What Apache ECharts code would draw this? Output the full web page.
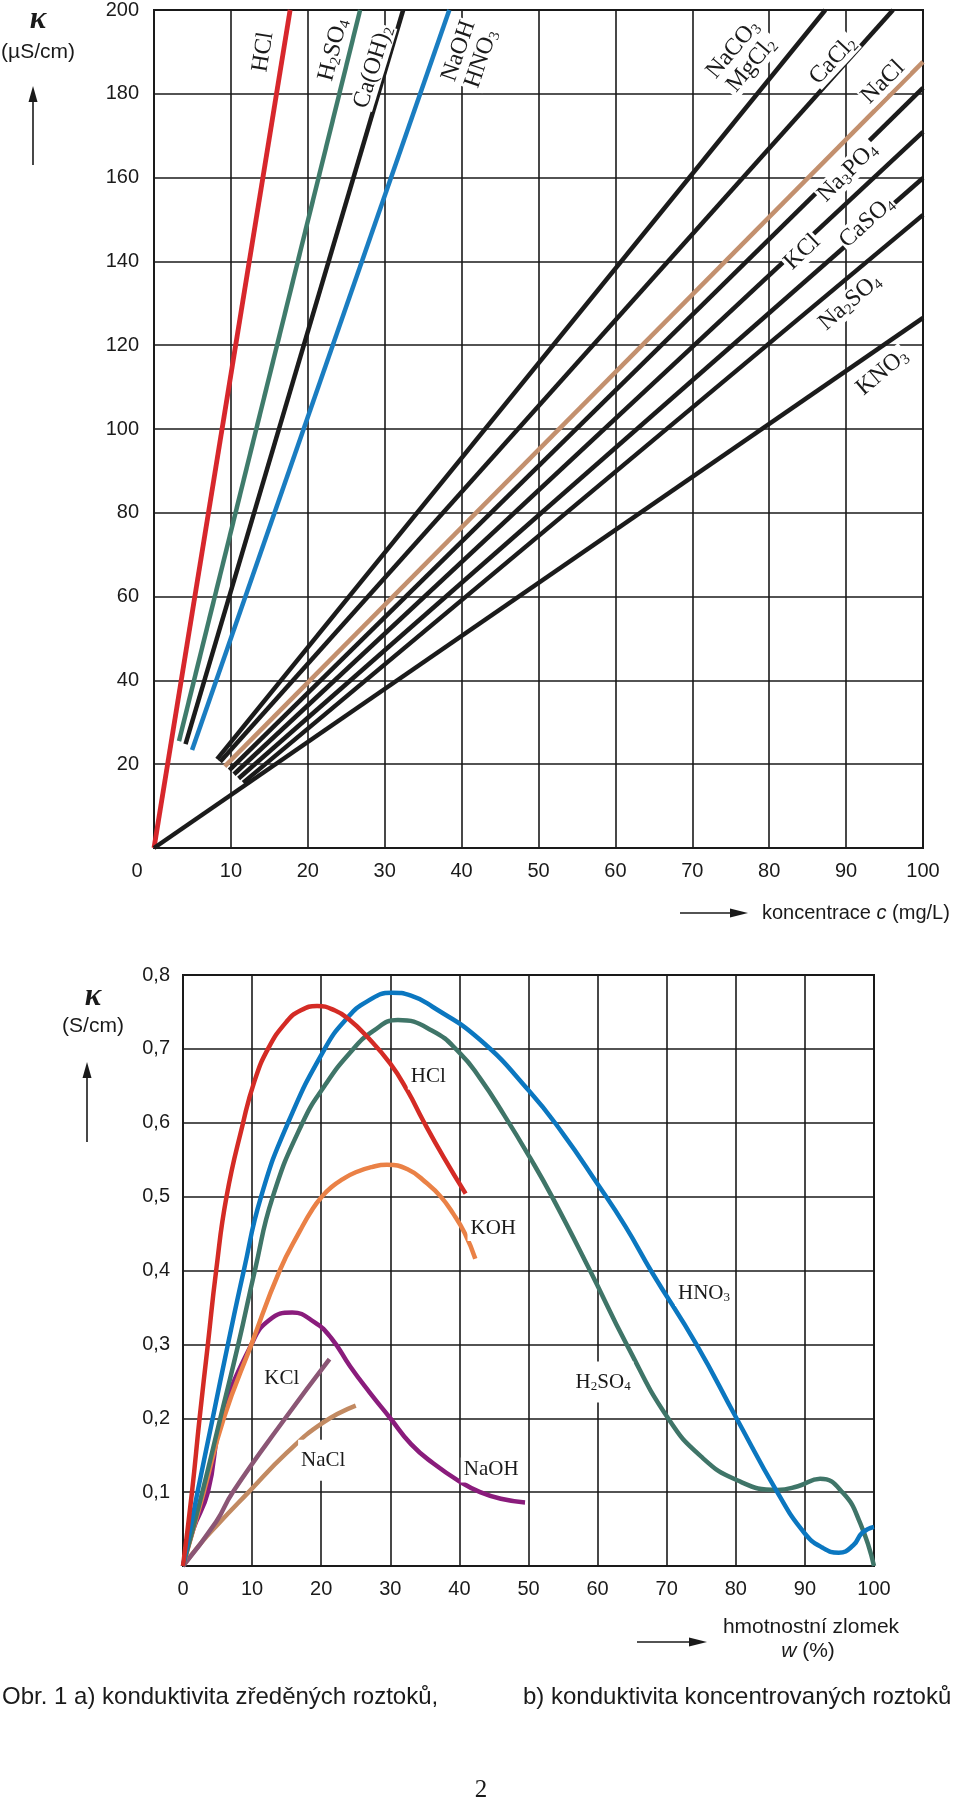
<!DOCTYPE html>
<html><head><meta charset="utf-8">
<script src="https://cdn.jsdelivr.net/npm/echarts@6/dist/echarts.min.js"></script>
<style>html,body{margin:0;padding:0;background:#fff}#c{width:960px;height:1803px}</style>
</head><body><div id="c"></div>
<script>
// ---------- a) dilute solutions: c (mg/L) vs kappa (µS/cm) ----------
const diluteXTicks = [0, 100, 10];
const diluteYTicks = [0, 200, 20];
const hclA    = [[0, 0], [17.7, 200]];
const h2so4A  = [[3.25, 25.5], [26.8, 200]];
const caoh2A  = [[4.1, 24.8], [32.4, 200]];
const naohA   = [[4.95, 23.4], [38.4, 200]];
const kno3A   = [[0, 0], [100, 126.5]];
const na2so4A = [[11.6, 15.6], [100, 151.1]];
const caso4A  = [[11.0, 16.6], [100, 159.9]];
const kclA    = [[10.4, 17.6], [100, 170.9]];
const na3po4A = [[9.8, 18.6], [100, 181.4]];
const cacl2A  = [[8.6, 20.6], [96.1, 200]];
const naco3A  = [[8.2, 21.2], [87.3, 200]];
const naclA   = [[9.2, 19.5], [100, 187.6]];

// ---------- b) concentrated solutions: w (%) vs kappa (S/cm) ----------
const concXTicks = [0, 100, 10];
const concYTicks = [0, 0.8, 0.1];
const hclB = [[0,0],[1.3,0.1],[2.4,0.2],[3.6,0.3],[4.8,0.4],[6.3,0.5],[8.7,0.6],[10.3,0.655],[12.3,0.7],[15,0.737],[17,0.752],[19.4,0.758],[22,0.752],[24,0.74],[26.6,0.717],[30,0.68],[32.5,0.643],[34.8,0.602],[37.8,0.552],[40.9,0.504]];
const hno3B = [[0,0],[2.1,0.1],[4.3,0.2],[6.5,0.3],[8.8,0.4],[11.3,0.5],[15.2,0.6],[20.5,0.7],[23.7,0.741],[26.6,0.764],[30.2,0.776],[33,0.772],[36.1,0.757],[42.9,0.713],[50.1,0.643],[55,0.585],[60,0.517],[64,0.46],[67.9,0.397],[74.3,0.3],[80.1,0.2],[86,0.1],[89.9,0.045],[92.5,0.025],[94.9,0.018],[97,0.028],[98.3,0.045],[100,0.053]];
const h2so4B = [[0,0],[2.8,0.1],[5.4,0.2],[8,0.3],[10.4,0.4],[13,0.5],[17.3,0.6],[20.5,0.65],[24.2,0.695],[27.5,0.724],[31.1,0.739],[36,0.725],[40.1,0.694],[43,0.66],[46.5,0.61],[50.2,0.553],[53.4,0.5],[58.9,0.4],[64.2,0.3],[70.2,0.2],[75,0.148],[80.2,0.116],[86,0.103],[89,0.108],[92.2,0.118],[95.5,0.099],[98,0.058],[100,0]];
const kohB = [[0,0],[1.5,0.05],[3,0.1],[5.9,0.2],[9.9,0.3],[14,0.4],[17,0.455],[18.8,0.484],[20.1,0.5],[21.5,0.513],[23,0.523],[25,0.533],[27.3,0.54],[29.5,0.543],[32.5,0.537],[35.3,0.518],[37.3,0.5],[39.1,0.477],[40.8,0.45],[42.3,0.416]];
const naohB = [[0,0],[1.5,0.05],[3.6,0.1],[5.6,0.2],[9.9,0.3],[12.5,0.333],[15.8,0.343],[19,0.33],[21.5,0.308],[24.2,0.27],[27,0.235],[30,0.2],[33,0.165],[36.2,0.139],[40.1,0.114],[43,0.1],[46,0.091],[49.5,0.086]];
const kclB = [[0,0],[4.8,0.06],[7.2,0.1],[14.8,0.2],[21.2,0.28]];
const naclB = [[0,0],[2.5,0.03],[5,0.056],[9.5,0.1],[15,0.153],[20.1,0.193],[25,0.217]];

// curve labels (rich text, anchored in data coordinates)
const diluteLabels = [
  {t:'{n|HCl}', at:[14.2, 190], r:81},
  {t:'{n|H}{s|2}{n|SO}{s|4}', at:[23.3, 190.5], r:76},
  {t:'{n|Ca(OH)}{s|2}', at:[28.5, 186.4], r:73},
  {t:'{n|NaOH}\n{n|HNO}{s|3}', at:[41.1, 189.3], r:71},
  {t:'{n|NaCO}{s|3}\n{n|MgCl}{s|2}', at:[76.5, 188.8], r:50},
  {t:'{n|CaCl}{s|2}', at:[88.3, 188], r:47},
  {t:'{n|NaCl}', at:[94.8, 182.8], r:45},
  {t:'{n|Na}{s|3}{n|PO}{s|4}', at:[90.2, 161.3], r:45},
  {t:'{n|KCl}', at:[84.3, 142.2], r:44},
  {t:'{n|CaSO}{s|4}', at:[92.7, 149.4], r:42},
  {t:'{n|Na}{s|2}{n|SO}{s|4}', at:[90.5, 130.3], r:41},
  {t:'{n|KNO}{s|3}', at:[94.7, 113.6], r:40}
];
const concLabels = [
  {t:'{n|HCl}', at:[35.5, 0.662], p:[2,3]},
  {t:'{n|KOH}', at:[44.9, 0.457], p:[2,3]},
  {t:'{n|HNO}{s|3}', at:[75.4, 0.369], p:[2,3]},
  {t:'{n|H}{s|2}{n|SO}{s|4}', at:[60.8, 0.249], p:[10,3]},
  {t:'{n|KCl}', at:[14.3, 0.254], p:[2,3]},
  {t:'{n|NaCl}', at:[20.3, 0.143], p:[10,3]},
  {t:'{n|NaOH}', at:[44.6, 0.130], p:[2,3]}
];

const INK = '#1a1a1a';
const SANS = '"Liberation Sans", Arial, sans-serif';
const SERIF = '"Liberation Serif", "Times New Roman", serif';

function axisOf(g, ticks, fmt, margin) {
  return {type:'value', gridIndex:g, min:ticks[0], max:ticks[1], interval:ticks[2],
    axisLine:{show:true, lineStyle:{color:INK, width:2}}, axisTick:{show:false},
    splitLine:{show:true, lineStyle:{color:INK, width:1.6}},
    axisLabel:{color:INK, fontFamily:SANS, fontSize:20, margin:margin, formatter:fmt}};
}
function lineS(g, name, data, color, width, smooth) {
  return {type:'line', name, xAxisIndex:g, yAxisIndex:g, data, showSymbol:false, symbol:'none',
    smooth: smooth || false, lineStyle:{color, width}, z:3, silent:true, animation:false};
}
function richStyles(big, small, sub) {
  return {n:{fontFamily:SERIF, fontSize:big, color:INK, textBorderWidth:0},
          s:{fontFamily:SERIF, fontSize:small, color:INK, textBorderWidth:0, padding:[sub,0,0,0]}};
}
function labelS(g, labels, big, small, sub, defPad) {
  return {type:'scatter', xAxisIndex:g, yAxisIndex:g, symbolSize:0, z:10, silent:true, animation:false,
    itemStyle:{opacity:1, color:'rgba(0,0,0,0)'},
    data: labels.map(l => ({value:l.at, label:{show:true, position:'inside', formatter:l.t,
      rotate:l.r || 0, backgroundColor:'#fff', padding:l.p || defPad, lineHeight:big,
      color:INK, opacity:1, textBorderWidth:0,
      rich:richStyles(big, small, sub)}}))};
}

const chart = echarts.init(document.getElementById('c'), null, {renderer:'canvas'});

const fmtA = v => v === 0 ? '' : String(v);
const fmtB = v => v === 0 ? '' : v.toFixed(1).replace('.', ',');

function arrowUp(x, yTail, yTip) {
  return [
    {type:'line', shape:{x1:x, y1:yTail, x2:x, y2:yTip+12}, style:{stroke:INK, lineWidth:1.6}},
    {type:'polygon', shape:{points:[[x, yTip],[x-4.5, yTip+16],[x+4.5, yTip+16]]}, style:{fill:INK}}
  ];
}
function arrowRight(y, xTail, xTip) {
  return [
    {type:'line', shape:{x1:xTail, y1:y, x2:xTip-12, y2:y}, style:{stroke:INK, lineWidth:1.6}},
    {type:'polygon', shape:{points:[[xTip, y],[xTip-18, y-4.5],[xTip-18, y+4.5]]}, style:{fill:INK}}
  ];
}
function txt(x, y, text, font, align, rich) {
  const st = {x, y, text, font, fill:INK, textAlign:align||'center', textVerticalAlign:'middle',
              align:align||'center', verticalAlign:'middle'};
  if (rich) st.rich = rich;
  return {type:'text', style:st, z:20};
}
const sansR = s => ({fontFamily:SANS, fontSize:s, fill:INK, color:INK});
const sansI = s => ({fontFamily:SANS, fontStyle:'italic', fontSize:s, fill:INK, color:INK});

chart.setOption({
  animation:false,
  backgroundColor:'#fff',
  grid:[
    {left:154, top:10, width:769, height:838, show:true, borderColor:INK, borderWidth:2, containLabel:false},
    {left:183, top:975, width:691, height:591, show:true, borderColor:INK, borderWidth:2, containLabel:false}
  ],
  xAxis:[axisOf(0, diluteXTicks, fmtA, 13), axisOf(1, concXTicks, v => String(v), 13)],
  yAxis:[axisOf(0, diluteYTicks, fmtA, 15), axisOf(1, concYTicks, fmtB, 13)],
  series:[
    lineS(0,'HCl',hclA,'#d7272c',4.8),
    lineS(0,'H2SO4',h2so4A,'#3f7b6b',4.5),
    lineS(0,'Ca(OH)2',caoh2A,'#1b1b1b',4.5),
    lineS(0,'NaOH, HNO3',naohA,'#1a7dc1',4.5),
    lineS(0,'KNO3',kno3A,'#1b1b1b',4.5),
    lineS(0,'Na2SO4',na2so4A,'#1b1b1b',4.5),
    lineS(0,'CaSO4',caso4A,'#1b1b1b',4.5),
    lineS(0,'KCl',kclA,'#1b1b1b',4.5),
    lineS(0,'Na3PO4',na3po4A,'#1b1b1b',4.5),
    lineS(0,'CaCl2',cacl2A,'#1b1b1b',4.5),
    lineS(0,'NaCO3, MgCl2',naco3A,'#1b1b1b',4.5),
    lineS(0,'NaCl',naclA,'#c3906e',4.5),
    labelS(0, diluteLabels, 24, 15, 11, [0,1]),
    lineS(1,'NaCl',naclB,'#c28a62',4.5,0.5),
    lineS(1,'KCl',kclB,'#8b5675',4.5,0.5),
    lineS(1,'NaOH',naohB,'#8a1c7c',4.5,0.5),
    lineS(1,'KOH',kohB,'#ea8146',4.5,0.5),
    lineS(1,'H2SO4',h2so4B,'#3f7568',4.5,0.5),
    lineS(1,'HNO3',hno3B,'#0b77c0',4.5,0.5),
    lineS(1,'HCl',hclB,'#d42b25',4.5,0.5),
    labelS(1, concLabels, 21, 13, 9, [2,3])
  ],
  graphic:{elements:[
    txt(137, 871, '0', '20px ' + SANS),
    txt(38, 20, 'κ', 'italic bold 31px ' + SERIF),
    txt(38, 52, '(µS/cm)', '21px ' + SANS),
    ...arrowUp(33, 165, 86),
    ...arrowRight(913, 680, 748),
    txt(762, 913, '{a|koncentrace }{b|c}{a| (mg/L)}', '20px ' + SANS, 'left', {a:sansR(20), b:sansI(20)}),
    txt(93, 997, 'κ', 'italic bold 31px ' + SERIF),
    txt(93, 1026, '(S/cm)', '21px ' + SANS),
    ...arrowUp(87, 1142, 1062),
    ...arrowRight(1642, 637, 707),
    txt(811, 1627, 'hmotnostní zlomek', '21px ' + SANS),
    txt(808, 1651, '{b|w}{a| (%)}', '21px ' + SANS, 'center', {a:sansR(21), b:sansI(21)}),
    txt(2, 1697, 'Obr. 1 a) konduktivita zředěných roztoků,', '24px ' + SANS, 'left'),
    txt(523, 1697, 'b) konduktivita koncentrovaných roztoků', '24px ' + SANS, 'left'),
    txt(481, 1790, '2', '25px ' + SERIF)
  ]}
});
</script></body></html>
